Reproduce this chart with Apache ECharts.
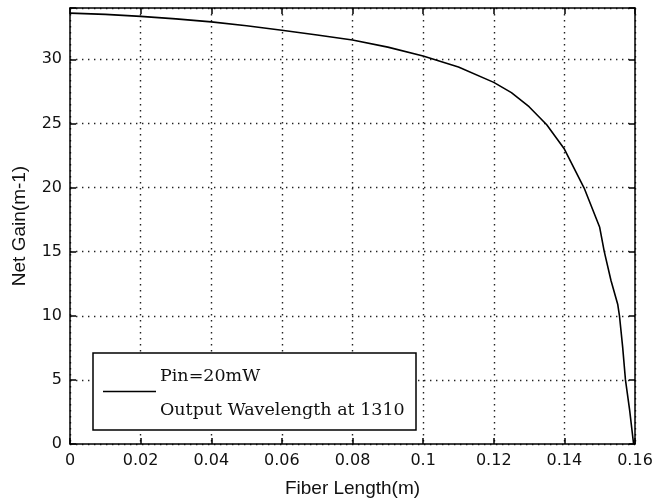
<!DOCTYPE html>
<html>
<head>
<meta charset="utf-8">
<script src="https://cdn.jsdelivr.net/npm/echarts@6/dist/echarts.min.js"></script>
<style>
  html, body { margin: 0; padding: 0; background: #fff; }
  #chart { width: 662px; height: 504px; }
</style>
</head>
<body>
<div id="chart"></div>
<script>
// Net gain along the fiber for Pin = 20 mW, output wavelength 1310
const fiberLength = [0, 0.01, 0.02, 0.03, 0.04, 0.05, 0.06, 0.07, 0.08, 0.09, 0.10, 0.11,
  0.12, 0.125, 0.13, 0.135, 0.14, 0.1456, 0.15, 0.1513, 0.1532, 0.1551, 0.1556, 0.1565,
  0.1573, 0.1585, 0.1596];
const netGain = [33.6, 33.5, 33.35, 33.15, 32.92, 32.62, 32.27, 31.9, 31.5, 30.95, 30.25, 29.4,
  28.2, 27.4, 26.3, 24.9, 23.0, 19.96, 16.9, 15.0, 12.75, 10.9, 10.0, 7.57,
  5.0, 2.6, 0];

const xTickValues = [0, 0.02, 0.04, 0.06, 0.08, 0.1, 0.12, 0.14, 0.16];
const xTickLabels = ['0', '0.02', '0.04', '0.06', '0.08', '0.1', '0.12', '0.14', '0.16'];
const yTickValues = [0, 5, 10, 15, 20, 25, 30];
const yTickLabels = ['0', '5', '10', '15', '20', '25', '30'];

const seriesName = 'Pin=20mW';
const legendLines = ['Pin=20mW', 'Output Wavelength at 1310'];
const xTitle = 'Fiber Length(m)';
const yTitle = 'Net Gain(m-1)';

const points = fiberLength.map((x, i) => [x, netGain[i]]);

function tickLabel(values, labels) {
  return function (v) {
    for (let i = 0; i < values.length; i++) {
      if (Math.abs(values[i] - v) < 1e-9) return labels[i];
    }
    return '';
  };
}

const axisLine = { show: true, onZero: false, lineStyle: { color: '#000', width: 1.5 } };
const dotted = { show: true, lineStyle: { color: '#222', width: 1.4, type: [1.4, 4.6] } };
const tickFont = { fontFamily: 'DejaVu Sans', fontSize: 16, color: '#111' };
const titleFont = { fontFamily: 'Liberation Sans', fontSize: 19, color: '#111' };

const chart = echarts.init(document.getElementById('chart'), null, { renderer: 'canvas' });
chart.setOption({
  animation: false,
  backgroundColor: '#fff',
  grid: { left: 70, top: 8, right: 27, bottom: 60, containLabel: false },
  xAxis: [{
    type: 'value', min: 0, max: 0.16, interval: 0.02, position: 'bottom',
    axisLine: axisLine,
    axisTick: { show: true, inside: true, length: 6, lineStyle: { color: '#000', width: 1.5 } },
    axisLabel: Object.assign({ margin: 9, formatter: tickLabel(xTickValues, xTickLabels) }, tickFont),
    splitLine: dotted,
    name: xTitle, nameLocation: 'middle', nameGap: 35,
    nameTextStyle: titleFont
  }, {
    type: 'value', min: 0, max: 0.16, interval: 0.02, position: 'top',
    axisLine: axisLine,
    axisTick: { show: true, inside: true, length: 6, lineStyle: { color: '#000', width: 1.5 } },
    axisLabel: { show: false }, splitLine: { show: false }
  }],
  yAxis: [{
    type: 'value', min: 0, max: 34, interval: 5, position: 'left',
    axisLine: axisLine,
    axisTick: { show: true, inside: true, length: 6, lineStyle: { color: '#000', width: 1.5 } },
    axisLabel: Object.assign({ margin: 8, formatter: tickLabel(yTickValues, yTickLabels) }, tickFont),
    splitLine: dotted,
    name: yTitle, nameLocation: 'middle', nameGap: 41, nameRotate: 90,
    nameTextStyle: titleFont
  }, {
    type: 'value', min: 0, max: 34, interval: 5, position: 'right',
    axisLine: axisLine,
    axisTick: { show: true, inside: true, length: 6, lineStyle: { color: '#000', width: 1.5 } },
    axisLabel: { show: false }, splitLine: { show: false }
  }],
  series: [{
    name: seriesName, type: 'line', xAxisIndex: 0, yAxisIndex: 0,
    data: points, showSymbol: false, smooth: false,
    lineStyle: { color: '#000', width: 1.6 }
  }],
  graphic: [
    { type: 'rect', z: 100, shape: { x: 93, y: 353, width: 323, height: 77 },
      style: { fill: '#fff', stroke: '#000', lineWidth: 1.5 } },
    { type: 'line', z: 101, shape: { x1: 103, y1: 391.5, x2: 156, y2: 391.5 },
      style: { stroke: '#000', lineWidth: 1.6 } },
    { type: 'text', z: 101, x: 160, y: 376,
      style: { text: legendLines[0], fontFamily: 'DejaVu Serif', fontSize: 17.5, fill: '#111', verticalAlign: 'middle' } },
    { type: 'text', z: 101, x: 160, y: 410,
      style: { text: legendLines[1], fontFamily: 'DejaVu Serif', fontSize: 17.5, fill: '#111', verticalAlign: 'middle' } }
  ]
});
</script>
</body>
</html>
